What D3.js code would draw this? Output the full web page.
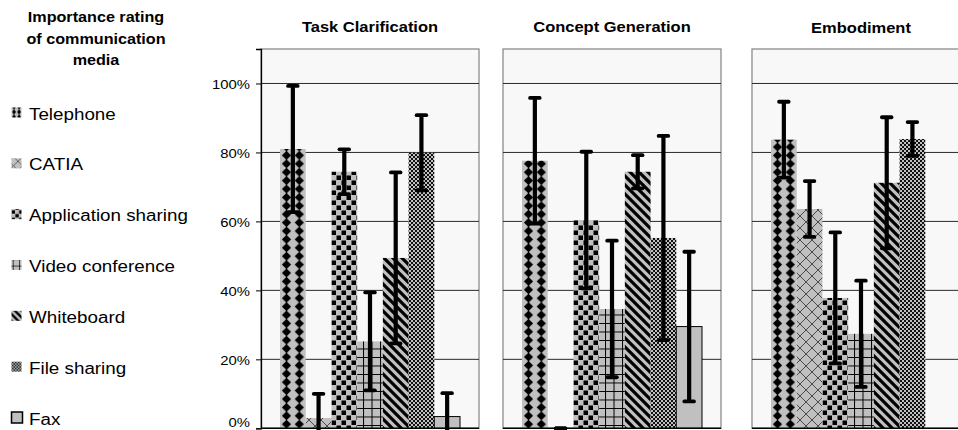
<!DOCTYPE html>
<html>
<head>
<meta charset="utf-8">
<script src="https://cdn.jsdelivr.net/npm/d3@7"></script>
<style>
  html, body { margin: 0; padding: 0; background: #ffffff; }
  svg { display: block; font-family: "Liberation Sans", Arial, sans-serif; }
</style>
</head>
<body>
<svg id="chart" width="958" height="430"></svg>
<script>
// ---------- data ----------
const phases = ["Task Clarification", "Concept Generation", "Embodiment"];
const media = ["Telephone", "CATIA", "Application sharing", "Video conference", "Whiteboard", "File sharing", "Fax"];
const legendTitle = ["Importance rating", "of communication", "media"];
const yTicks = [0, 20, 40, 60, 80, 100];

// mean importance (%) per medium, one value per phase
const telephone   = [81.0, 77.6, 83.7];
const catia       = [3.0, 0.0, 63.6];
const appSharing  = [74.4, 60.4, 37.8];
const videoConf   = [25.2, 34.6, 27.4];
const whiteboard  = [49.4, 74.4, 71.2];
const fileSharing = [79.9, 55.2, 83.9];
const fax         = [3.4, 29.5, null];

// error (+/-) per medium, one value per phase
const telephoneErr   = [18.3, 18.2, 11.0];
const catiaErr       = [7.0, 0.0, 8.1];
const appSharingErr  = [6.5, 19.8, 19.0];
const videoConfErr   = [14.2, 19.8, 15.4];
const whiteboardErr  = [24.8, 4.8, 19.0];
const fileSharingErr = [10.9, 29.6, 4.9];
const faxErr         = [6.8, 21.7, null];

const valueSets = [telephone, catia, appSharing, videoConf, whiteboard, fileSharing, fax];
const errorSets = [telephoneErr, catiaErr, appSharingErr, videoConfErr, whiteboardErr, fileSharingErr, faxErr];

// ---------- layout ----------
const panelLeft = [261, 503, 752];
const panelWidth = 218;
const plotTop = 49, plotBottom = 428.3;
const SX = 1.1; // horizontal text stretch of the source image

const svg = d3.select("#chart");
const defs = svg.append("defs");

// ---------- patterns ----------
const BASE = "#c0c0c0";
function makePatterns(prefix, s, telShift, telW, telH) {
  const mk = (id, w, h, dx) => {
    const p = defs.append("pattern").attr("id", prefix + id)
      .attr("patternUnits", "userSpaceOnUse").attr("width", w).attr("height", h)
      .attr("x", dx || 0)
      .attr("patternTransform", `scale(${s})`);
    p.append("rect").attr("width", w).attr("height", h).attr("fill", BASE);
    return p;
  };
  let p;
  p = mk("tel", telW, telH, telShift);
  const cx = telW / 2, cy = telH / 2, rx = telW * 0.36, ry = telH * 0.54;
  p.append("path").attr("d", `M${cx},${cy - ry} L${cx + rx},${cy} L${cx},${cy + ry} L${cx - rx},${cy} Z`).attr("fill", "#000");
  p = mk("catia", 12, 12);
  p.append("path").attr("d", "M0,0 L12,12 M12,0 L0,12").attr("stroke", "#4a4a4a").attr("stroke-width", 1);
  p = mk("app", 10, 10);
  p.append("rect").attr("x", 0.5).attr("y", 0.5).attr("width", 4.5).attr("height", 4.5).attr("fill", "#000");
  p.append("rect").attr("x", 5.5).attr("y", 5.5).attr("width", 4.5).attr("height", 4.5).attr("fill", "#000");
  p = mk("video", 8.5, 8.5);
  p.append("path").attr("d", "M0,0.5 H8.5 M0.5,0 V8.5").attr("stroke", "#000").attr("stroke-width", 1);
  p = mk("white", 9, 9);
  p.append("path").attr("d", "M-3,6 L3,12 M-1,-1 L10,10 M6,-3 L12,3").attr("stroke", "#000").attr("stroke-width", 3.2);
  p = mk("file", 4, 4);
  p.append("rect").attr("x", 0).attr("y", 0).attr("width", 2).attr("height", 2).attr("fill", "#111");
  p.append("rect").attr("x", 2).attr("y", 2).attr("width", 2).attr("height", 2).attr("fill", "#111");
}
makePatterns("b-", 1, 6.3, 12.8, 8.4);
makePatterns("l-", 0.75, 2, 6.7, 6.7);
const patternIds = ["tel", "catia", "app", "video", "white", "file", null];
const fillFor = (prefix, i) => patternIds[i] ? `url(#${prefix}${patternIds[i]})` : BASE;

// ---------- scales ----------
const y = d3.scaleLinear().domain([0, 110]).range([plotBottom, plotTop]);
const x = d3.scaleBand().domain(media).range([19, 199]).paddingInner(0).paddingOuter(0);

// ---------- panels ----------
phases.forEach((phase, pi) => {
  const g = svg.append("g").attr("transform", `translate(${panelLeft[pi]},0)`);

  g.append("rect").attr("x", 0).attr("y", plotTop).attr("width", panelWidth)
    .attr("height", plotBottom - plotTop).attr("fill", "#f8f8f8")
    .attr("stroke", "#8c8c8c").attr("stroke-width", 1.3);

  // gridlines
  g.selectAll("line.grid").data(yTicks.filter(t => t > 0)).join("line")
    .attr("class", "grid")
    .attr("x1", 0).attr("x2", panelWidth)
    .attr("y1", d => y(d)).attr("y2", d => y(d))
    .attr("stroke", "#2a2a2a").attr("stroke-width", 1);

  // bars
  const rows = media.map((m, i) => ({ m, i, v: valueSets[i][pi], e: errorSets[i][pi] }))
    .filter(d => d.v !== null);
  g.selectAll("rect.bar").data(rows).join("rect")
    .attr("class", "bar")
    .attr("x", d => x(d.m)).attr("width", x.bandwidth())
    .attr("y", d => y(d.v)).attr("height", d => y(0) - y(d.v))
    .attr("fill", d => fillFor("b-", d.i))
    .attr("stroke", d => d.i === 6 ? "#000" : "none")
    .attr("stroke-width", 1);

  // error bars
  const eb = g.selectAll("g.err").data(rows).join("g").attr("class", "err")
    .attr("transform", d => `translate(${x(d.m) + x.bandwidth() / 2},0)`);
  eb.append("line")
    .attr("y1", d => y(d.v + d.e)).attr("y2", d => y(d.v - d.e))
    .attr("stroke", "#000").attr("stroke-width", 4.2);
  eb.append("line")
    .attr("x1", -4.8).attr("x2", 4.8)
    .attr("y1", d => y(d.v + d.e)).attr("y2", d => y(d.v + d.e))
    .attr("stroke", "#000").attr("stroke-width", 3.8).attr("stroke-linecap", "round");
  eb.append("line")
    .attr("x1", -4.8).attr("x2", 4.8)
    .attr("y1", d => y(d.v - d.e)).attr("y2", d => y(d.v - d.e))
    .attr("stroke", "#000").attr("stroke-width", 3.8).attr("stroke-linecap", "round");

  // baseline
  g.append("line").attr("x1", 0).attr("x2", panelWidth)
    .attr("y1", y(0)).attr("y2", y(0)).attr("stroke", "#000").attr("stroke-width", 1.5);

  // title
  g.append("text")
    .attr("transform", `translate(${panelWidth / 2},${pi === 2 ? 33 : 31.5}) scale(${SX},1)`)
    .attr("text-anchor", "middle").attr("font-weight", "bold").attr("font-size", 15)
    .attr("fill", "#000").text(phase);

  // y axis only on first panel
  if (pi === 0) {
    const axis = d3.axisLeft(y).tickValues(yTicks).tickSize(5).tickFormat(d => d + "%");
    const ag = g.append("g").call(axis);
    ag.select(".domain").attr("stroke", "#000").attr("stroke-width", 1.3);
    ag.selectAll(".tick line").attr("stroke", "#000");
    ag.selectAll(".tick text")
      .attr("x", 0).attr("dy", null).attr("y", 0)
      .attr("text-anchor", "end")
      .attr("transform", d => `translate(-11,${d === 0 ? -2.3 : 4.7}) scale(${SX},1)`)
      .attr("font-family", "Liberation Sans, Arial, sans-serif")
      .attr("font-size", 13.5).attr("fill", "#000");
  }
});

// ---------- legend ----------
const lg = svg.append("g");
lg.selectAll("text.lt").data(legendTitle).join("text").attr("class", "lt")
  .attr("transform", (d, i) => `translate(96,${22 + i * 21.5}) scale(${SX},1)`)
  .attr("text-anchor", "middle").attr("font-weight", "bold").attr("font-size", 14.7)
  .attr("fill", "#000").text(d => d);

const ly = d3.scalePoint().domain(media).range([119.5, 424.5]);
const items = lg.selectAll("g.item").data(media).join("g").attr("class", "item")
  .attr("transform", d => `translate(0,${ly(d)})`);
items.append("rect")
  .attr("x", 11.5).attr("y", (d, i) => i === 6 ? -12.5 : -12)
  .attr("width", (d, i) => i === 6 ? 11 : 10).attr("height", (d, i) => i === 6 ? 11 : 10)
  .attr("fill", (d, i) => fillFor("l-", i))
  .attr("stroke", (d, i) => i === 6 ? "#000" : "none").attr("stroke-width", 1.5);
items.append("text")
  .attr("transform", `translate(29,0) scale(${SX},1)`)
  .attr("font-size", 17.1).attr("fill", "#000").text(d => d);
</script>
</body>
</html>
